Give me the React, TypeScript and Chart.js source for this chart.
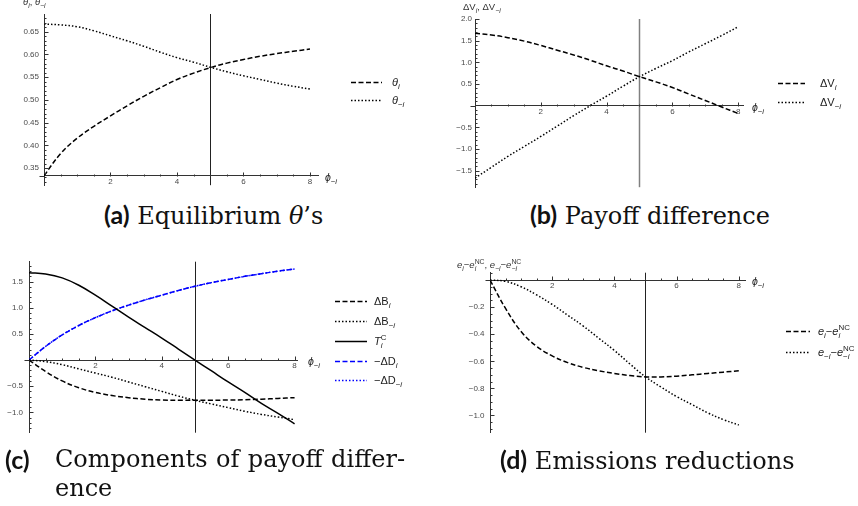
import React, { useEffect, useRef } from 'react';
import { Chart, registerables } from 'chart.js';

Chart.register(...registerables);

// ---------------- data ----------------
const phi = [0, 0.5, 1, 1.5, 2, 2.5, 3, 3.5, 4, 4.5, 5, 5.5, 6, 6.5, 7, 7.5, 8];

const thetaI = [0.3333, 0.382, 0.416, 0.442, 0.465, 0.487, 0.508, 0.527, 0.545, 0.559, 0.571, 0.581, 0.589, 0.596, 0.602, 0.607, 0.612];
const thetaMinusI = [0.667, 0.665, 0.661, 0.652, 0.641, 0.63, 0.618, 0.605, 0.593, 0.583, 0.572, 0.562, 0.553, 0.545, 0.537, 0.53, 0.524];

const deltaVi = [1.67, 1.63, 1.57, 1.49, 1.39, 1.28, 1.17, 1.05, 0.92, 0.8, 0.67, 0.55, 0.42, 0.27, 0.12, -0.03, -0.18];
const deltaVMinusI = [-1.67, -1.42, -1.17, -0.94, -0.71, -0.47, -0.23, 0.0, 0.22, 0.45, 0.67, 0.86, 1.04, 1.24, 1.43, 1.62, 1.82];

const deltaBi = [0, -0.22, -0.4, -0.53, -0.62, -0.68, -0.72, -0.75, -0.765, -0.77, -0.77, -0.77, -0.765, -0.76, -0.75, -0.735, -0.72];
const deltaBMinusI = [0, -0.03, -0.09, -0.17, -0.25, -0.33, -0.42, -0.51, -0.6, -0.69, -0.77, -0.84, -0.91, -0.98, -1.04, -1.09, -1.14];
const transferTiC = [1.67, 1.645, 1.57, 1.43, 1.24, 1.03, 0.82, 0.62, 0.42, 0.21, 0.0, -0.21, -0.42, -0.62, -0.83, -1.02, -1.22];
const negDeltaDi = [0, 0.26, 0.48, 0.66, 0.81, 0.94, 1.05, 1.15, 1.24, 1.33, 1.41, 1.48, 1.54, 1.6, 1.65, 1.7, 1.74];
const negDeltaDMinusI = [0, 0.26, 0.48, 0.66, 0.81, 0.94, 1.05, 1.15, 1.24, 1.33, 1.41, 1.48, 1.54, 1.6, 1.65, 1.7, 1.74];

const emissionI = [0, -0.21, -0.38, -0.49, -0.56, -0.61, -0.645, -0.67, -0.69, -0.705, -0.715, -0.715, -0.71, -0.7, -0.69, -0.68, -0.67];
const emissionMinusI = [0, -0.01, -0.05, -0.11, -0.18, -0.26, -0.34, -0.43, -0.52, -0.62, -0.715, -0.79, -0.86, -0.92, -0.98, -1.03, -1.07];

const xTickLabels = [2, 4, 6, 8];
const yTicksA = [0.35, 0.4, 0.45, 0.5, 0.55, 0.6, 0.65];
const yTicksB = [-1.5, -1.0, -0.5, 0.5, 1.0, 1.5, 2.0];
const yTicksC = [-1.0, -0.5, 0.5, 1.0, 1.5];
const yTicksD = [-1.0, -0.8, -0.6, -0.4, -0.2];

const equilibriumPhi = 5;

// ---------------- styles ----------------
const SANS = '"Liberation Sans", Arial, sans-serif';
const AXIS = '#333333';
const TICK_TXT = '#4a4a4a';
const BLUE = 'rgb(0,0,255)';
const DASH = [5, 2.5];
const DOT = [1.5, 2];
const LW = 1.5;

type Seg = { t: string; it?: boolean; sub?: boolean; sup?: boolean; stack?: boolean };

function drawRich(ctx: CanvasRenderingContext2D, segs: Seg[], x: number, y: number, size: number, color: string) {
  ctx.save();
  ctx.fillStyle = color;
  ctx.textBaseline = 'alphabetic';
  ctx.textAlign = 'left';
  let cx = x;
  let prevStart = x;
  let prevW = 0;
  for (const s of segs) {
    const fs = s.sub || s.sup ? size * 0.72 : size;
    ctx.font = `${s.it ? 'italic ' : ''}${fs}px ${SANS}`;
    const w = ctx.measureText(s.t).width;
    const sx = s.stack ? prevStart : cx;
    const dy = s.sub ? size * 0.3 : s.sup ? -size * 0.42 : 0;
    ctx.fillText(s.t, sx, y + dy);
    if (s.stack) {
      cx = prevStart + Math.max(prevW, w);
    } else {
      prevStart = sx;
      prevW = w;
      cx = sx + w;
    }
  }
  ctx.restore();
}

const PHI_LABEL: Seg[] = [{ t: 'ϕ', it: true }, { t: '−i', it: true, sub: true }];

type LegendItem = { segs: Seg[]; color: string; dash: number[]; y: number };

const decorPlugin = {
  id: 'decor',
  beforeDatasetsDraw(chart: any, _a: any, o: any) {
    const ctx: CanvasRenderingContext2D = chart.ctx;
    const xs = chart.scales.x;
    const ca = chart.chartArea;
    const px = Math.round(xs.getPixelForValue(o.vline)) + 0.5;
    ctx.save();
    ctx.strokeStyle = o.vlineColor;
    ctx.lineWidth = o.vlineWidth;
    ctx.beginPath();
    ctx.moveTo(px, ca.top);
    ctx.lineTo(px, ca.bottom);
    ctx.stroke();
    ctx.restore();
  },
  afterDraw(chart: any, _a: any, o: any) {
    const ctx: CanvasRenderingContext2D = chart.ctx;
    const xs = chart.scales.x;
    const ys = chart.scales.y;
    const ay = Math.round(ys.getPixelForValue(o.xAxisAt)) + 0.5;
    const ax = Math.round(xs.getPixelForValue(0)) + 0.5;
    ctx.save();
    ctx.strokeStyle = AXIS;
    ctx.lineWidth = 1;
    ctx.beginPath();
    ctx.moveTo(ax - o.overshoot, ay);
    ctx.lineTo(ax, ay);
    for (let k = 1; k * 0.5 <= xs.max + 1e-9; k++) {
      const v = k * 0.5;
      const major = k % 4 === 0;
      const p = Math.round(xs.getPixelForValue(v)) + 0.5;
      ctx.moveTo(p, ay);
      ctx.lineTo(p, ay - (major ? 4 : 2));
    }
    const st = o.yMinor;
    const start = Math.ceil((ys.min - 1e-9) / st);
    for (let k = start; k * st <= ys.max + 1e-9; k++) {
      const v = k * st;
      if (Math.abs(v - o.xAxisAt) < 1e-9) continue;
      const r = v / o.yMajor;
      const major = Math.abs(r - Math.round(r)) < 1e-6;
      const p = Math.round(ys.getPixelForValue(v)) + 0.5;
      ctx.moveTo(ax, p);
      ctx.lineTo(ax + (major ? 4 : 2), p);
    }
    ctx.stroke();
    ctx.restore();

    drawRich(ctx, PHI_LABEL, o.xLabelX, ay + 4, 10.5, '#222');
    if (o.yLabel) drawRich(ctx, o.yLabel.segs, o.yLabel.x, o.yLabel.y, 9.5, '#333');

    const lg = o.legend;
    (lg.items as LegendItem[]).forEach((it) => {
      ctx.save();
      ctx.strokeStyle = it.color;
      ctx.lineWidth = LW;
      ctx.setLineDash(it.dash);
      ctx.beginPath();
      ctx.moveTo(lg.x0, it.y + 0.5);
      ctx.lineTo(lg.x1, it.y + 0.5);
      ctx.stroke();
      ctx.restore();
      drawRich(ctx, it.segs, lg.tx, it.y + 4, 11, '#222');
    });
  },
};

type Series = { values: number[]; color: string; dash: number[] };

type PanelSpec = {
  left: number;
  top: number;
  w: number;
  h: number;
  yAxisW: number;
  pad: { right: number; top: number; bottom: number };
  xMax: number;
  yMin: number;
  yMax: number;
  xAxisAt: number;
  yTicks: number[];
  yDecimals: number;
  yPad: number;
  yMinor: number;
  yMajor: number;
  series: Series[];
  vlineColor: string;
  vlineWidth: number;
  xLabelX: number;
  yLabel: { segs: Seg[]; x: number; y: number } | null;
  legend: { x0: number; x1: number; tx: number; items: LegendItem[] };
};

function fmt(v: number, d: number) {
  const s = Math.abs(v).toFixed(d);
  return v < 0 ? '−' + s : s;
}

function buildConfig(p: PanelSpec): any {
  const tickFont = { family: SANS, size: 8 };
  return {
    type: 'line',
    data: {
      datasets: p.series.map((s) => ({
        data: phi.map((x, i) => ({ x, y: s.values[i] })),
        borderColor: s.color,
        borderDash: s.dash,
        borderWidth: LW,
        pointRadius: 0,
        fill: false,
        tension: 0.4,
      })),
    },
    options: {
      responsive: false,
      animation: false,
      events: [],
      layout: { padding: { left: 0, right: p.pad.right, top: p.pad.top, bottom: p.pad.bottom } },
      plugins: {
        legend: { display: false },
        tooltip: { enabled: false },
        decor: {
          vline: equilibriumPhi,
          vlineColor: p.vlineColor,
          vlineWidth: p.vlineWidth,
          xAxisAt: p.xAxisAt,
          overshoot: 5,
          yMinor: p.yMinor,
          yMajor: p.yMajor,
          xLabelX: p.xLabelX,
          yLabel: p.yLabel,
          legend: p.legend,
        },
      },
      scales: {
        x: {
          type: 'linear',
          min: 0,
          max: p.xMax,
          position: { y: p.xAxisAt },
          grid: { display: true, drawOnChartArea: false, drawTicks: false, color: 'rgba(0,0,0,0)' },
          border: { display: true, color: AXIS, width: 1 },
          ticks: {
            font: tickFont,
            color: TICK_TXT,
            padding: 1,
            maxRotation: 0,
            autoSkip: false,
            callback: (v: number) => String(v),
          },
          afterBuildTicks: (s: any) => {
            s.ticks = xTickLabels.map((v) => ({ value: v }));
          },
          afterFit: (s: any) => {
            s.height = 0;
          },
        },
        y: {
          type: 'linear',
          min: p.yMin,
          max: p.yMax,
          position: 'left',
          grid: { display: true, drawOnChartArea: false, drawTicks: false, color: 'rgba(0,0,0,0)' },
          border: { display: true, color: AXIS, width: 1 },
          ticks: {
            font: tickFont,
            color: TICK_TXT,
            padding: p.yPad,
            autoSkip: false,
            callback: (v: number) => fmt(v, p.yDecimals),
          },
          afterBuildTicks: (s: any) => {
            s.ticks = p.yTicks.map((v) => ({ value: v }));
          },
          afterFit: (s: any) => {
            s.width = p.yAxisW;
          },
        },
      },
    },
    plugins: [decorPlugin],
  };
}

const panels: PanelSpec[] = [
  {
    left: 0, top: 0, w: 430, h: 195, yAxisW: 44,
    pad: { right: 111.7, top: 14, bottom: 7 },
    xMax: 8.25, yMin: 0.3125, yMax: 0.689, xAxisAt: 1 / 3,
    yTicks: yTicksA, yDecimals: 2, yPad: 5, yMinor: 0.01, yMajor: 0.05,
    series: [
      { values: thetaI, color: '#000', dash: DASH },
      { values: thetaMinusI, color: '#000', dash: DOT },
    ],
    vlineColor: '#222', vlineWidth: 1, xLabelX: 325,
    yLabel: { segs: [{ t: 'θ', it: true }, { t: 'i', it: true, sub: true }, { t: ', ' }, { t: 'θ', it: true }, { t: '−i', it: true, sub: true }], x: 23, y: 5 },
    legend: {
      x0: 351, x1: 382, tx: 392,
      items: [
        { segs: [{ t: 'θ', it: true }, { t: 'i', it: true, sub: true }], color: '#000', dash: DASH, y: 82 },
        { segs: [{ t: 'θ', it: true }, { t: '−i', it: true, sub: true }], color: '#000', dash: DOT, y: 100 },
      ],
    },
  },
  {
    left: 430, top: 0, w: 428, h: 195, yAxisW: 45,
    pad: { right: 114.9, top: 19, bottom: 6.4 },
    xMax: 8.15, yMin: -1.88, yMax: 2.0, xAxisAt: 0,
    yTicks: yTicksB, yDecimals: 1, yPad: 3, yMinor: 0.1, yMajor: 0.5,
    series: [
      { values: deltaVi, color: '#000', dash: DASH },
      { values: deltaVMinusI, color: '#000', dash: DOT },
    ],
    vlineColor: '#808080', vlineWidth: 1.5, xLabelX: 322,
    yLabel: { segs: [{ t: 'ΔV' }, { t: 'i', it: true, sub: true }, { t: ', ΔV' }, { t: '−i', it: true, sub: true }], x: 33, y: 10 },
    legend: {
      x0: 348, x1: 375, tx: 390,
      items: [
        { segs: [{ t: 'ΔV' }, { t: 'i', it: true, sub: true }], color: '#000', dash: DASH, y: 83 },
        { segs: [{ t: 'ΔV' }, { t: '−i', it: true, sub: true }], color: '#000', dash: DOT, y: 102 },
      ],
    },
  },
  {
    left: 0, top: 250, w: 430, h: 195, yAxisW: 29,
    pad: { right: 132.1, top: 11.7, bottom: 12.3 },
    xMax: 8.1, yMin: -1.39, yMax: 1.88, xAxisAt: 0,
    yTicks: yTicksC, yDecimals: 1, yPad: 6, yMinor: 0.1, yMajor: 0.5,
    series: [
      { values: deltaBi, color: '#000', dash: DASH },
      { values: deltaBMinusI, color: '#000', dash: DOT },
      { values: transferTiC, color: '#000', dash: [] },
      { values: negDeltaDi, color: BLUE, dash: DASH },
      { values: negDeltaDMinusI, color: BLUE, dash: DOT },
    ],
    vlineColor: '#222', vlineWidth: 1, xLabelX: 308,
    yLabel: null,
    legend: {
      x0: 335, x1: 367, tx: 374,
      items: [
        { segs: [{ t: 'ΔB' }, { t: 'i', it: true, sub: true }], color: '#000', dash: DASH, y: 51 },
        { segs: [{ t: 'ΔB' }, { t: '−i', it: true, sub: true }], color: '#000', dash: DOT, y: 71 },
        { segs: [{ t: 'T', it: true }, { t: 'i', it: true, sub: true }, { t: 'C', sup: true, stack: true }], color: '#000', dash: [], y: 91 },
        { segs: [{ t: '−ΔD' }, { t: 'i', it: true, sub: true }], color: BLUE, dash: DASH, y: 111 },
        { segs: [{ t: '−ΔD' }, { t: '−i', it: true, sub: true }], color: BLUE, dash: DOT, y: 130 },
      ],
    },
  },
  {
    left: 430, top: 250, w: 428, h: 195, yAxisW: 60,
    pad: { right: 113, top: 22.7, bottom: 12.3 },
    xMax: 8.2, yMin: -1.127, yMax: 0.054, xAxisAt: 0,
    yTicks: yTicksD, yDecimals: 1, yPad: 5.5, yMinor: 0.05, yMajor: 0.2,
    series: [
      { values: emissionI, color: '#000', dash: DASH },
      { values: emissionMinusI, color: '#000', dash: DOT },
    ],
    vlineColor: '#222', vlineWidth: 1, xLabelX: 322,
    yLabel: {
      segs: [
        { t: 'e', it: true }, { t: 'i', it: true, sub: true }, { t: '−' }, { t: 'e', it: true }, { t: 'i', it: true, sub: true }, { t: 'NC', sup: true, stack: true },
        { t: ', ' },
        { t: 'e', it: true }, { t: '−i', it: true, sub: true }, { t: '−' }, { t: 'e', it: true }, { t: '−i', it: true, sub: true }, { t: 'NC', sup: true, stack: true },
      ],
      x: 27, y: 18,
    },
    legend: {
      x0: 356, x1: 380, tx: 388,
      items: [
        { segs: [{ t: 'e', it: true }, { t: 'i', it: true, sub: true }, { t: '−' }, { t: 'e', it: true }, { t: 'i', it: true, sub: true }, { t: 'NC', sup: true, stack: true }], color: '#000', dash: DASH, y: 81 },
        { segs: [{ t: 'e', it: true }, { t: '−i', it: true, sub: true }, { t: '−' }, { t: 'e', it: true }, { t: '−i', it: true, sub: true }, { t: 'NC', sup: true, stack: true }], color: '#000', dash: DOT, y: 102 },
      ],
    },
  },
];

function Panel({ spec }: { spec: PanelSpec }) {
  const ref = useRef<HTMLCanvasElement>(null);
  useEffect(() => {
    const chart = new Chart(ref.current as HTMLCanvasElement, buildConfig(spec));
    return () => chart.destroy();
  }, [spec]);
  return (
    <canvas
      ref={ref}
      width={spec.w}
      height={spec.h}
      style={{ position: 'absolute', left: spec.left, top: spec.top, width: spec.w, height: spec.h }}
    />
  );
}

const SERIF = '"DejaVu Serif", "Liberation Serif", serif';
const BOLDSANS = 'Lato, "Open Sans", sans-serif';

const capStyle: React.CSSProperties = {
  position: 'absolute',
  fontFamily: SERIF,
  fontSize: 24,
  lineHeight: '29px',
  whiteSpace: 'nowrap',
  color: '#111',
};
const tagStyle: React.CSSProperties = { fontFamily: BOLDSANS, fontWeight: 700, fontSize: 25 };

export default function App() {
  return (
    <div style={{ position: 'fixed', left: 0, top: 0, width: 858, height: 506, background: '#fff', overflow: 'hidden' }}>
      {panels.map((p, i) => (
        <Panel key={i} spec={p} />
      ))}
      <div style={{ ...capStyle, left: 104, top: 200 }}>
        <span style={tagStyle}>(a)</span> Equilibrium <i>θ</i>’s
      </div>
      <div style={{ ...capStyle, left: 530, top: 200 }}>
        <span style={tagStyle}>(b)</span> Payoff difference
      </div>
      <div style={{ ...capStyle, left: 5, top: 445, display: 'flex' }}>
        <span style={{ ...tagStyle, width: 50 }}>(c)</span>
        <div style={{ width: 350 }}>
          <div style={{ textAlign: 'justify', textAlignLast: 'justify' }}>Components of payoff differ-</div>
          <div>ence</div>
        </div>
      </div>
      <div style={{ ...capStyle, left: 500, top: 445 }}>
        <span style={tagStyle}>(d)</span> Emissions reductions
      </div>
    </div>
  );
}
